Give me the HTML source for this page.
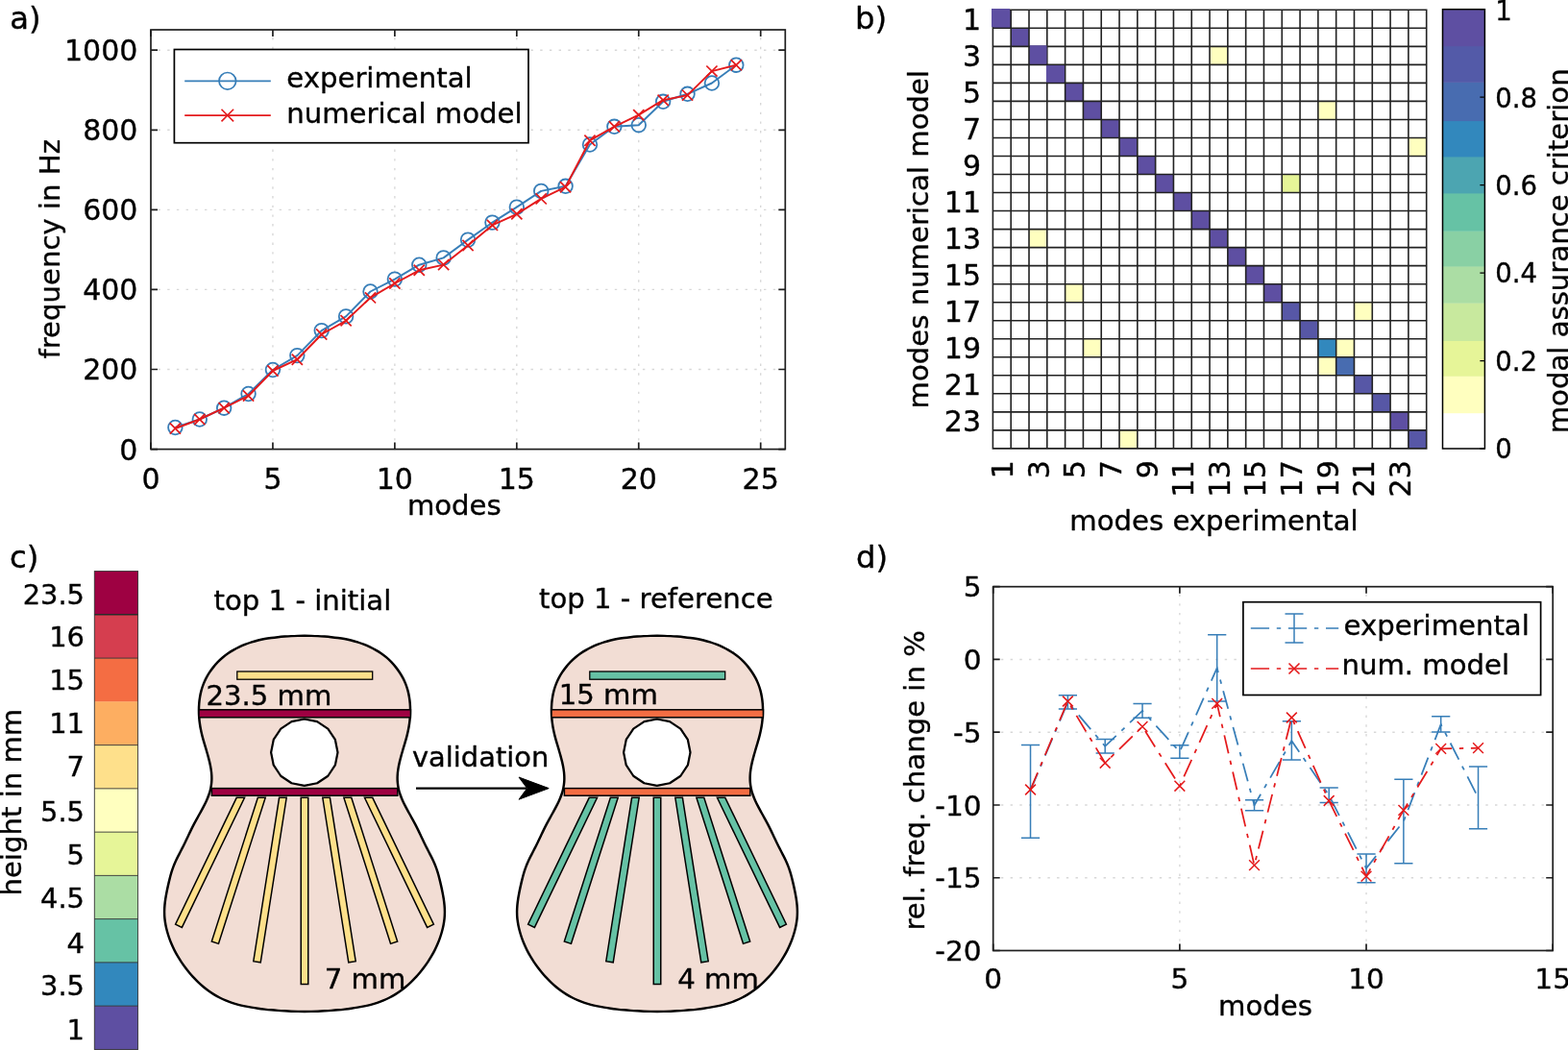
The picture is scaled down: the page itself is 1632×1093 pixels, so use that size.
<!DOCTYPE html>
<html lang="en">
<head>
<meta charset="utf-8">
<title>Guitar top modal validation figure</title>
<style>
html,body{margin:0;padding:0;background:#fff;}
body{width:1632px;height:1093px;overflow:hidden;}
svg{display:block;}
svg text{font-family:"DejaVu Sans","Liberation Sans",sans-serif;fill:#000;stroke:#000;stroke-width:0.36px;stroke-linejoin:round;}
</style>
</head>
<body>
<svg width="1632" height="1093" viewBox="0 0 1632 1093">
<rect x="0" y="0" width="1632" height="1093" fill="#fff"/>
<g id="panel-a">
<path d="M283.94 467.6V31.0M410.88 467.6V31.0M537.82 467.6V31.0M664.76 467.6V31.0M791.70 467.6V31.0" stroke="#d7d7d7" stroke-width="1.35" stroke-dasharray="2.4 7.3" stroke-dashoffset="0.7" fill="none"/>
<path d="M157.0 384.52H817.3M157.0 301.44H817.3M157.0 218.36H817.3M157.0 135.28H817.3M157.0 52.20H817.3" stroke="#d7d7d7" stroke-width="1.35" stroke-dasharray="2.4 7.3" stroke-dashoffset="2.2" fill="none"/>
<polyline points="182.39,445.00 207.78,436.50 233.16,424.70 258.55,410.00 283.94,385.00 309.33,370.10 334.72,344.10 360.10,329.40 385.49,303.50 410.88,290.60 436.27,275.70 461.66,268.40 487.04,249.60 512.43,231.60 537.82,215.60 563.21,198.90 588.60,193.80 613.98,150.50 639.37,131.80 664.76,130.20 690.15,105.80 715.54,97.80 740.92,86.50 766.31,67.70" stroke="#377eb8" stroke-width="1.95" fill="none" stroke-linejoin="round"/>
<circle cx="182.39" cy="445.00" r="7.3" stroke="#377eb8" stroke-width="1.8" fill="none"/>
<circle cx="207.78" cy="436.50" r="7.3" stroke="#377eb8" stroke-width="1.8" fill="none"/>
<circle cx="233.16" cy="424.70" r="7.3" stroke="#377eb8" stroke-width="1.8" fill="none"/>
<circle cx="258.55" cy="410.00" r="7.3" stroke="#377eb8" stroke-width="1.8" fill="none"/>
<circle cx="283.94" cy="385.00" r="7.3" stroke="#377eb8" stroke-width="1.8" fill="none"/>
<circle cx="309.33" cy="370.10" r="7.3" stroke="#377eb8" stroke-width="1.8" fill="none"/>
<circle cx="334.72" cy="344.10" r="7.3" stroke="#377eb8" stroke-width="1.8" fill="none"/>
<circle cx="360.10" cy="329.40" r="7.3" stroke="#377eb8" stroke-width="1.8" fill="none"/>
<circle cx="385.49" cy="303.50" r="7.3" stroke="#377eb8" stroke-width="1.8" fill="none"/>
<circle cx="410.88" cy="290.60" r="7.3" stroke="#377eb8" stroke-width="1.8" fill="none"/>
<circle cx="436.27" cy="275.70" r="7.3" stroke="#377eb8" stroke-width="1.8" fill="none"/>
<circle cx="461.66" cy="268.40" r="7.3" stroke="#377eb8" stroke-width="1.8" fill="none"/>
<circle cx="487.04" cy="249.60" r="7.3" stroke="#377eb8" stroke-width="1.8" fill="none"/>
<circle cx="512.43" cy="231.60" r="7.3" stroke="#377eb8" stroke-width="1.8" fill="none"/>
<circle cx="537.82" cy="215.60" r="7.3" stroke="#377eb8" stroke-width="1.8" fill="none"/>
<circle cx="563.21" cy="198.90" r="7.3" stroke="#377eb8" stroke-width="1.8" fill="none"/>
<circle cx="588.60" cy="193.80" r="7.3" stroke="#377eb8" stroke-width="1.8" fill="none"/>
<circle cx="613.98" cy="150.50" r="7.3" stroke="#377eb8" stroke-width="1.8" fill="none"/>
<circle cx="639.37" cy="131.80" r="7.3" stroke="#377eb8" stroke-width="1.8" fill="none"/>
<circle cx="664.76" cy="130.20" r="7.3" stroke="#377eb8" stroke-width="1.8" fill="none"/>
<circle cx="690.15" cy="105.80" r="7.3" stroke="#377eb8" stroke-width="1.8" fill="none"/>
<circle cx="715.54" cy="97.80" r="7.3" stroke="#377eb8" stroke-width="1.8" fill="none"/>
<circle cx="740.92" cy="86.50" r="7.3" stroke="#377eb8" stroke-width="1.8" fill="none"/>
<circle cx="766.31" cy="67.70" r="7.3" stroke="#377eb8" stroke-width="1.8" fill="none"/>
<polyline points="182.39,446.00 207.78,436.50 233.16,424.70 258.55,412.00 283.94,386.00 309.33,374.20 334.72,348.00 360.10,333.80 385.49,309.90 410.88,295.00 436.27,281.30 461.66,275.60 487.04,255.50 512.43,234.40 537.82,222.80 563.21,206.90 588.60,194.70 613.98,146.20 639.37,131.80 664.76,119.70 690.15,104.20 715.54,99.10 740.92,74.10 766.31,67.70" stroke="#e41a1c" stroke-width="1.95" fill="none" stroke-linejoin="round"/>
<path d="M176.79 440.40L187.99 451.60M176.79 451.60L187.99 440.40" stroke="#e41a1c" stroke-width="1.75" fill="none"/>
<path d="M202.18 430.90L213.38 442.10M202.18 442.10L213.38 430.90" stroke="#e41a1c" stroke-width="1.75" fill="none"/>
<path d="M227.56 419.10L238.76 430.30M227.56 430.30L238.76 419.10" stroke="#e41a1c" stroke-width="1.75" fill="none"/>
<path d="M252.95 406.40L264.15 417.60M252.95 417.60L264.15 406.40" stroke="#e41a1c" stroke-width="1.75" fill="none"/>
<path d="M278.34 380.40L289.54 391.60M278.34 391.60L289.54 380.40" stroke="#e41a1c" stroke-width="1.75" fill="none"/>
<path d="M303.73 368.60L314.93 379.80M303.73 379.80L314.93 368.60" stroke="#e41a1c" stroke-width="1.75" fill="none"/>
<path d="M329.12 342.40L340.32 353.60M329.12 353.60L340.32 342.40" stroke="#e41a1c" stroke-width="1.75" fill="none"/>
<path d="M354.50 328.20L365.70 339.40M354.50 339.40L365.70 328.20" stroke="#e41a1c" stroke-width="1.75" fill="none"/>
<path d="M379.89 304.30L391.09 315.50M379.89 315.50L391.09 304.30" stroke="#e41a1c" stroke-width="1.75" fill="none"/>
<path d="M405.28 289.40L416.48 300.60M405.28 300.60L416.48 289.40" stroke="#e41a1c" stroke-width="1.75" fill="none"/>
<path d="M430.67 275.70L441.87 286.90M430.67 286.90L441.87 275.70" stroke="#e41a1c" stroke-width="1.75" fill="none"/>
<path d="M456.06 270.00L467.26 281.20M456.06 281.20L467.26 270.00" stroke="#e41a1c" stroke-width="1.75" fill="none"/>
<path d="M481.44 249.90L492.64 261.10M481.44 261.10L492.64 249.90" stroke="#e41a1c" stroke-width="1.75" fill="none"/>
<path d="M506.83 228.80L518.03 240.00M506.83 240.00L518.03 228.80" stroke="#e41a1c" stroke-width="1.75" fill="none"/>
<path d="M532.22 217.20L543.42 228.40M532.22 228.40L543.42 217.20" stroke="#e41a1c" stroke-width="1.75" fill="none"/>
<path d="M557.61 201.30L568.81 212.50M557.61 212.50L568.81 201.30" stroke="#e41a1c" stroke-width="1.75" fill="none"/>
<path d="M583.00 189.10L594.20 200.30M583.00 200.30L594.20 189.10" stroke="#e41a1c" stroke-width="1.75" fill="none"/>
<path d="M608.38 140.60L619.58 151.80M608.38 151.80L619.58 140.60" stroke="#e41a1c" stroke-width="1.75" fill="none"/>
<path d="M633.77 126.20L644.97 137.40M633.77 137.40L644.97 126.20" stroke="#e41a1c" stroke-width="1.75" fill="none"/>
<path d="M659.16 114.10L670.36 125.30M659.16 125.30L670.36 114.10" stroke="#e41a1c" stroke-width="1.75" fill="none"/>
<path d="M684.55 98.60L695.75 109.80M684.55 109.80L695.75 98.60" stroke="#e41a1c" stroke-width="1.75" fill="none"/>
<path d="M709.94 93.50L721.14 104.70M709.94 104.70L721.14 93.50" stroke="#e41a1c" stroke-width="1.75" fill="none"/>
<path d="M735.32 68.50L746.52 79.70M735.32 79.70L746.52 68.50" stroke="#e41a1c" stroke-width="1.75" fill="none"/>
<path d="M760.71 62.10L771.91 73.30M760.71 73.30L771.91 62.10" stroke="#e41a1c" stroke-width="1.75" fill="none"/>
<path d="M157.00 467.6v-7M157.00 31.0v7M283.94 467.6v-7M283.94 31.0v7M410.88 467.6v-7M410.88 31.0v7M537.82 467.6v-7M537.82 31.0v7M664.76 467.6v-7M664.76 31.0v7M791.70 467.6v-7M791.70 31.0v7M157.0 467.60h7M817.3 467.60h-7M157.0 384.52h7M817.3 384.52h-7M157.0 301.44h7M817.3 301.44h-7M157.0 218.36h7M817.3 218.36h-7M157.0 135.28h7M817.3 135.28h-7M157.0 52.20h7M817.3 52.20h-7" stroke="#1f1f1f" stroke-width="1.7" fill="none"/>
<rect x="157.0" y="31.0" width="660.30" height="436.60" stroke="#1f1f1f" stroke-width="1.7" fill="none"/>
<text x="143.40" y="478.50" text-anchor="end" font-size="30.0">0</text>
<text x="143.40" y="395.42" text-anchor="end" font-size="30.0">200</text>
<text x="143.40" y="312.34" text-anchor="end" font-size="30.0">400</text>
<text x="143.40" y="229.26" text-anchor="end" font-size="30.0">600</text>
<text x="143.40" y="146.18" text-anchor="end" font-size="30.0">800</text>
<text x="143.40" y="63.10" text-anchor="end" font-size="30.0">1000</text>
<text x="157.00" y="508.80" text-anchor="middle" font-size="30.0">0</text>
<text x="283.94" y="508.80" text-anchor="middle" font-size="30.0">5</text>
<text x="410.88" y="508.80" text-anchor="middle" font-size="30.0">10</text>
<text x="537.82" y="508.80" text-anchor="middle" font-size="30.0">15</text>
<text x="664.76" y="508.80" text-anchor="middle" font-size="30.0">20</text>
<text x="791.70" y="508.80" text-anchor="middle" font-size="30.0">25</text>
<text x="423.90" y="535.70" text-anchor="start" font-size="29.15">modes</text>
<text x="62.10" y="373.50" text-anchor="start" font-size="29.15" transform="rotate(-90 62.10 373.50)">frequency in Hz</text>
<text x="10.30" y="29.90" text-anchor="start" font-size="32.3">a)</text>
<rect x="181.4" y="51.5" width="368.6" height="97.2" fill="#fff" stroke="#000" stroke-width="1.7"/>
<path d="M192.2 84.3H281.8" stroke="#377eb8" stroke-width="1.7" fill="none"/>
<circle cx="236.8" cy="84.3" r="8.8" stroke="#377eb8" stroke-width="1.7" fill="none"/>
<path d="M192.2 120.1H281.8" stroke="#e41a1c" stroke-width="1.7" fill="none"/>
<path d="M230.50 113.80L243.10 126.40M230.50 126.40L243.10 113.80" stroke="#e41a1c" stroke-width="1.6" fill="none"/>
<text x="298.30" y="90.80" text-anchor="start" font-size="29.15">experimental</text>
<text x="298.30" y="127.90" text-anchor="start" font-size="29.15">numerical model</text>
</g>
<g id="panel-b">
<rect x="1033.40" y="10.30" width="18.80" height="19.02" fill="#5e4fa2"/>
<rect x="1052.20" y="29.32" width="18.80" height="19.02" fill="#5e4fa2"/>
<rect x="1071.01" y="48.35" width="18.80" height="19.02" fill="#5e4fa2"/>
<rect x="1089.81" y="67.38" width="18.80" height="19.02" fill="#5e4fa2"/>
<rect x="1108.62" y="86.40" width="18.80" height="19.02" fill="#5e4fa2"/>
<rect x="1127.42" y="105.42" width="18.80" height="19.02" fill="#5e4fa2"/>
<rect x="1146.23" y="124.45" width="18.80" height="19.02" fill="#5e4fa2"/>
<rect x="1165.03" y="143.47" width="18.80" height="19.02" fill="#5e4fa2"/>
<rect x="1183.83" y="162.50" width="18.80" height="19.02" fill="#5e4fa2"/>
<rect x="1202.64" y="181.53" width="18.80" height="19.02" fill="#5e4fa2"/>
<rect x="1221.44" y="200.55" width="18.80" height="19.02" fill="#5e4fa2"/>
<rect x="1240.25" y="219.57" width="18.80" height="19.02" fill="#5e4fa2"/>
<rect x="1259.05" y="238.60" width="18.80" height="19.02" fill="#5e4fa2"/>
<rect x="1277.85" y="257.62" width="18.80" height="19.02" fill="#5e4fa2"/>
<rect x="1296.66" y="276.65" width="18.80" height="19.02" fill="#5e4fa2"/>
<rect x="1315.46" y="295.68" width="18.80" height="19.02" fill="#5e4fa2"/>
<rect x="1334.27" y="314.70" width="18.80" height="19.02" fill="#5757a6"/>
<rect x="1353.07" y="333.72" width="18.80" height="19.02" fill="#5757a6"/>
<rect x="1371.88" y="352.75" width="18.80" height="19.02" fill="#3288bd"/>
<rect x="1390.68" y="371.77" width="18.80" height="19.02" fill="#486cb0"/>
<rect x="1409.48" y="390.80" width="18.80" height="19.02" fill="#5757a6"/>
<rect x="1428.29" y="409.82" width="18.80" height="19.02" fill="#5757a6"/>
<rect x="1447.09" y="428.85" width="18.80" height="19.02" fill="#5e4fa2"/>
<rect x="1465.90" y="447.88" width="18.80" height="19.02" fill="#5757a6"/>
<rect x="1259.05" y="48.35" width="18.80" height="19.02" fill="#ffffbf"/>
<rect x="1371.88" y="105.42" width="18.80" height="19.02" fill="#ffffbf"/>
<rect x="1465.90" y="143.47" width="18.80" height="19.02" fill="#ffffbf"/>
<rect x="1071.01" y="238.60" width="18.80" height="19.02" fill="#ffffbf"/>
<rect x="1108.62" y="295.68" width="18.80" height="19.02" fill="#ffffbf"/>
<rect x="1409.48" y="314.70" width="18.80" height="19.02" fill="#ffffbf"/>
<rect x="1127.42" y="352.75" width="18.80" height="19.02" fill="#ffffbf"/>
<rect x="1390.68" y="352.75" width="18.80" height="19.02" fill="#ffffbf"/>
<rect x="1371.88" y="371.77" width="18.80" height="19.02" fill="#ffffbf"/>
<rect x="1165.03" y="447.88" width="18.80" height="19.02" fill="#ffffbf"/>
<rect x="1334.27" y="181.53" width="18.80" height="19.02" fill="#e6f598"/>
<path d="M1033.40 10.3V466.9M1033.4 10.30H1484.7M1052.20 10.3V466.9M1033.4 29.32H1484.7M1071.01 10.3V466.9M1033.4 48.35H1484.7M1089.81 10.3V466.9M1033.4 67.38H1484.7M1108.62 10.3V466.9M1033.4 86.40H1484.7M1127.42 10.3V466.9M1033.4 105.42H1484.7M1146.23 10.3V466.9M1033.4 124.45H1484.7M1165.03 10.3V466.9M1033.4 143.47H1484.7M1183.83 10.3V466.9M1033.4 162.50H1484.7M1202.64 10.3V466.9M1033.4 181.53H1484.7M1221.44 10.3V466.9M1033.4 200.55H1484.7M1240.25 10.3V466.9M1033.4 219.57H1484.7M1259.05 10.3V466.9M1033.4 238.60H1484.7M1277.85 10.3V466.9M1033.4 257.62H1484.7M1296.66 10.3V466.9M1033.4 276.65H1484.7M1315.46 10.3V466.9M1033.4 295.68H1484.7M1334.27 10.3V466.9M1033.4 314.70H1484.7M1353.07 10.3V466.9M1033.4 333.72H1484.7M1371.88 10.3V466.9M1033.4 352.75H1484.7M1390.68 10.3V466.9M1033.4 371.77H1484.7M1409.48 10.3V466.9M1033.4 390.80H1484.7M1428.29 10.3V466.9M1033.4 409.82H1484.7M1447.09 10.3V466.9M1033.4 428.85H1484.7M1465.90 10.3V466.9M1033.4 447.88H1484.7M1484.70 10.3V466.9M1033.4 466.90H1484.7" stroke="#222" stroke-width="1.6" fill="none" stroke-linecap="square"/>
<rect x="1032.00" y="9.00" width="19.00" height="19.22" fill="#5e4fa2"/>
<rect x="1071.91" y="47.25" width="17.60" height="19.12" fill="#5e4fa2"/>
<rect x="1088.91" y="68.17" width="18.80" height="17.42" fill="#5e4fa2"/>
<text x="1021.00" y="30.81" text-anchor="end" font-size="30.0">1</text>
<text x="1054.10" y="479.20" text-anchor="end" font-size="30.0" transform="rotate(-90 1054.10 479.20)">1</text>
<text x="1021.00" y="68.86" text-anchor="end" font-size="30.0">3</text>
<text x="1091.71" y="479.20" text-anchor="end" font-size="30.0" transform="rotate(-90 1091.71 479.20)">3</text>
<text x="1021.00" y="106.91" text-anchor="end" font-size="30.0">5</text>
<text x="1129.32" y="479.20" text-anchor="end" font-size="30.0" transform="rotate(-90 1129.32 479.20)">5</text>
<text x="1021.00" y="144.96" text-anchor="end" font-size="30.0">7</text>
<text x="1166.93" y="479.20" text-anchor="end" font-size="30.0" transform="rotate(-90 1166.93 479.20)">7</text>
<text x="1021.00" y="183.01" text-anchor="end" font-size="30.0">9</text>
<text x="1204.54" y="479.20" text-anchor="end" font-size="30.0" transform="rotate(-90 1204.54 479.20)">9</text>
<text x="1021.00" y="221.06" text-anchor="end" font-size="30.0">11</text>
<text x="1242.14" y="479.20" text-anchor="end" font-size="30.0" transform="rotate(-90 1242.14 479.20)">11</text>
<text x="1021.00" y="259.11" text-anchor="end" font-size="30.0">13</text>
<text x="1279.75" y="479.20" text-anchor="end" font-size="30.0" transform="rotate(-90 1279.75 479.20)">13</text>
<text x="1021.00" y="297.16" text-anchor="end" font-size="30.0">15</text>
<text x="1317.36" y="479.20" text-anchor="end" font-size="30.0" transform="rotate(-90 1317.36 479.20)">15</text>
<text x="1021.00" y="335.21" text-anchor="end" font-size="30.0">17</text>
<text x="1354.97" y="479.20" text-anchor="end" font-size="30.0" transform="rotate(-90 1354.97 479.20)">17</text>
<text x="1021.00" y="373.26" text-anchor="end" font-size="30.0">19</text>
<text x="1392.58" y="479.20" text-anchor="end" font-size="30.0" transform="rotate(-90 1392.58 479.20)">19</text>
<text x="1021.00" y="411.31" text-anchor="end" font-size="30.0">21</text>
<text x="1430.19" y="479.20" text-anchor="end" font-size="30.0" transform="rotate(-90 1430.19 479.20)">21</text>
<text x="1021.00" y="449.36" text-anchor="end" font-size="30.0">23</text>
<text x="1467.79" y="479.20" text-anchor="end" font-size="30.0" transform="rotate(-90 1467.79 479.20)">23</text>
<text x="1113.30" y="551.70" text-anchor="start" font-size="29.15">modes experimental</text>
<text x="966.30" y="425.40" text-anchor="start" font-size="29.15" transform="rotate(-90 966.30 425.40)">modes numerical model</text>
<text x="890.00" y="29.80" text-anchor="start" font-size="32.3">b)</text>
<rect x="1501.5" y="429.80" width="43.90" height="37.60" fill="#ffffff"/>
<rect x="1501.5" y="391.40" width="43.90" height="38.80" fill="#ffffbf"/>
<rect x="1501.5" y="354.60" width="43.90" height="37.20" fill="#e6f598"/>
<rect x="1501.5" y="315.20" width="43.90" height="39.80" fill="#c8e99e"/>
<rect x="1501.5" y="277.10" width="43.90" height="38.50" fill="#abdda4"/>
<rect x="1501.5" y="240.30" width="43.90" height="37.20" fill="#89d0a4"/>
<rect x="1501.5" y="201.00" width="43.90" height="39.70" fill="#66c2a5"/>
<rect x="1501.5" y="163.00" width="43.90" height="38.40" fill="#4ca5b1"/>
<rect x="1501.5" y="125.70" width="43.90" height="37.70" fill="#3288bd"/>
<rect x="1501.5" y="85.50" width="43.90" height="40.60" fill="#486cb0"/>
<rect x="1501.5" y="47.80" width="43.90" height="38.10" fill="#535aa8"/>
<rect x="1501.5" y="9.70" width="43.90" height="38.50" fill="#5e4fa2"/>
<rect x="1501.5" y="9.7" width="43.90" height="457.30" fill="none" stroke="#000" stroke-width="1.5"/>
<path d="M1545.4 467.00h-5M1545.4 375.54h-5M1545.4 284.08h-5M1545.4 192.62h-5M1545.4 101.16h-5M1545.4 9.70h-5" stroke="#000" stroke-width="1.3" fill="none"/>
<text x="1556.30" y="477.40" text-anchor="start" font-size="27.5">0</text>
<text x="1556.30" y="385.94" text-anchor="start" font-size="27.5">0.2</text>
<text x="1556.30" y="294.48" text-anchor="start" font-size="27.5">0.4</text>
<text x="1556.30" y="203.02" text-anchor="start" font-size="27.5">0.6</text>
<text x="1556.30" y="111.56" text-anchor="start" font-size="27.5">0.8</text>
<text x="1556.30" y="20.80" text-anchor="start" font-size="27.5">1</text>
<text x="1631.80" y="451.30" text-anchor="start" font-size="29.15" transform="rotate(-90 1631.80 451.30)">modal assurance criterion</text>
</g>
<g id="panel-c">
<rect x="98.3" y="594.60" width="45.30" height="45.55" fill="#9e0142"/>
<rect x="98.3" y="639.85" width="45.30" height="45.55" fill="#d53e4f"/>
<rect x="98.3" y="685.11" width="45.30" height="45.55" fill="#f46d43"/>
<rect x="98.3" y="730.36" width="45.30" height="45.55" fill="#fdae61"/>
<rect x="98.3" y="775.62" width="45.30" height="45.55" fill="#fee08b"/>
<rect x="98.3" y="820.87" width="45.30" height="45.55" fill="#ffffbf"/>
<rect x="98.3" y="866.13" width="45.30" height="45.55" fill="#e6f598"/>
<rect x="98.3" y="911.38" width="45.30" height="45.55" fill="#abdda4"/>
<rect x="98.3" y="956.64" width="45.30" height="45.55" fill="#66c2a5"/>
<rect x="98.3" y="1001.89" width="45.30" height="45.55" fill="#3288bd"/>
<rect x="98.3" y="1047.15" width="45.30" height="45.55" fill="#5e4fa2"/>
<path d="M98.3 685.11H143.6M98.3 775.62H143.6M98.3 820.87H143.6M98.3 866.13H143.6M98.3 911.38H143.6M98.3 956.64H143.6M98.3 1001.89H143.6M98.3 1047.15H143.6" stroke="#333" stroke-width="0.9" fill="none"/>
<path d="M98.3 639.85H143.6" stroke="#2a2a2a" stroke-width="1.5" fill="none"/>
<rect x="98.3" y="594.6" width="45.30" height="497.80" fill="none" stroke="#333" stroke-width="0.9"/>
<text x="88.00" y="629.33" text-anchor="end" font-size="28.9">23.5</text>
<text x="88.00" y="673.08" text-anchor="end" font-size="28.9">16</text>
<text x="88.00" y="717.84" text-anchor="end" font-size="28.9">15</text>
<text x="88.00" y="762.59" text-anchor="end" font-size="28.9">11</text>
<text x="88.00" y="807.65" text-anchor="end" font-size="28.9">7</text>
<text x="88.00" y="854.90" text-anchor="end" font-size="28.9">5.5</text>
<text x="88.00" y="900.15" text-anchor="end" font-size="28.9">5</text>
<text x="88.00" y="944.91" text-anchor="end" font-size="28.9">4.5</text>
<text x="88.00" y="991.86" text-anchor="end" font-size="28.9">4</text>
<text x="88.00" y="1035.82" text-anchor="end" font-size="28.9">3.5</text>
<text x="88.00" y="1081.87" text-anchor="end" font-size="28.9">1</text>
<text x="22.40" y="932.50" text-anchor="start" font-size="29.15" transform="rotate(-90 22.40 932.50)">height in mm</text>
<text x="10.10" y="591.30" text-anchor="start" font-size="32.3">c)</text>
<g transform="translate(0 0)">
<path d="M317.00 661.76C314.68 661.76 312.36 661.79 310.05 661.85C307.73 661.92 305.41 662.01 303.10 662.13C300.78 662.25 298.47 662.41 296.16 662.58C293.85 662.76 291.54 662.96 289.23 663.19C286.92 663.42 284.62 663.67 282.32 663.98C280.03 664.29 277.74 664.62 275.46 665.04C273.19 665.46 270.93 665.92 268.69 666.47C266.45 667.03 264.22 667.65 262.02 668.35C259.82 669.05 257.64 669.82 255.50 670.67C253.35 671.51 251.23 672.43 249.15 673.42C247.07 674.42 245.01 675.48 243.01 676.62C241.01 677.76 239.04 678.97 237.15 680.27C235.26 681.57 233.43 682.96 231.68 684.44C229.94 685.92 228.27 687.51 226.68 689.16C225.10 690.82 223.58 692.57 222.15 694.37C220.71 696.17 219.34 698.04 218.08 699.95C216.81 701.87 215.62 703.85 214.56 705.88C213.51 707.91 212.56 710.01 211.73 712.14C210.89 714.28 210.19 716.48 209.58 718.69C208.98 720.90 208.49 723.16 208.10 725.43C207.71 727.70 207.44 729.99 207.25 732.29C207.06 734.58 206.98 736.89 206.97 739.20C206.97 741.51 207.05 743.82 207.20 746.12C207.36 748.43 207.58 750.73 207.89 753.02C208.20 755.31 208.59 757.59 209.05 759.85C209.50 762.12 210.06 764.36 210.63 766.60C211.21 768.84 211.86 771.07 212.50 773.29C213.14 775.52 213.83 777.74 214.48 779.96C215.13 782.19 215.80 784.41 216.42 786.64C217.03 788.88 217.64 791.11 218.16 793.36C218.68 795.62 219.16 797.88 219.51 800.15C219.86 802.43 220.15 804.72 220.27 807.00C220.39 809.29 220.40 811.59 220.23 813.86C220.06 816.13 219.74 818.40 219.27 820.63C218.80 822.86 218.15 825.07 217.40 827.23C216.66 829.40 215.75 831.52 214.80 833.63C213.85 835.73 212.79 837.79 211.73 839.85C210.67 841.91 209.54 843.93 208.42 845.97C207.31 848.00 206.16 850.02 205.05 852.05C203.95 854.09 202.84 856.12 201.77 858.18C200.70 860.23 199.66 862.31 198.64 864.39C197.62 866.47 196.64 868.57 195.64 870.66C194.64 872.75 193.66 874.85 192.64 876.93C191.62 879.02 190.59 881.09 189.54 883.16C188.50 885.22 187.40 887.27 186.36 889.33C185.31 891.39 184.24 893.44 183.27 895.53C182.31 897.63 181.38 899.73 180.56 901.88C179.73 904.03 179.01 906.22 178.34 908.43C177.67 910.64 177.09 912.88 176.52 915.12C175.95 917.37 175.43 919.63 174.92 921.89C174.41 924.15 173.91 926.42 173.47 928.69C173.03 930.96 172.60 933.24 172.25 935.53C171.91 937.81 171.60 940.11 171.41 942.41C171.21 944.70 171.08 947.01 171.08 949.31C171.08 951.61 171.19 953.91 171.41 956.20C171.64 958.48 171.99 960.76 172.43 963.02C172.86 965.28 173.42 967.53 174.03 969.76C174.64 971.98 175.34 974.20 176.10 976.38C176.86 978.56 177.69 980.72 178.60 982.84C179.50 984.97 180.48 987.06 181.52 989.12C182.57 991.19 183.69 993.21 184.86 995.20C186.03 997.20 187.27 999.15 188.55 1001.08C189.83 1003.00 191.17 1004.89 192.55 1006.75C193.93 1008.60 195.36 1010.43 196.84 1012.21C198.31 1013.99 199.83 1015.74 201.40 1017.44C202.97 1019.14 204.58 1020.80 206.24 1022.40C207.91 1024.00 209.63 1025.55 211.39 1027.03C213.16 1028.51 214.98 1029.94 216.85 1031.29C218.72 1032.64 220.63 1033.93 222.60 1035.13C224.56 1036.34 226.57 1037.47 228.62 1038.51C230.67 1039.55 232.77 1040.51 234.90 1041.40C237.02 1042.29 239.19 1043.10 241.37 1043.83C243.56 1044.57 245.77 1045.23 248.00 1045.82C250.23 1046.41 252.49 1046.91 254.75 1047.38C257.02 1047.85 259.30 1048.24 261.58 1048.63C263.87 1049.01 266.16 1049.36 268.46 1049.69C270.75 1050.02 273.05 1050.32 275.35 1050.60C277.65 1050.87 279.96 1051.12 282.27 1051.34C284.57 1051.56 286.89 1051.74 289.20 1051.90C291.51 1052.07 293.83 1052.21 296.14 1052.34C298.46 1052.46 300.77 1052.57 303.09 1052.66C305.41 1052.75 307.73 1052.82 310.04 1052.87C312.36 1052.92 314.68 1052.95 317.00 1052.95C319.32 1052.95 321.64 1052.92 323.96 1052.87C326.27 1052.82 328.59 1052.75 330.91 1052.66C333.23 1052.57 335.54 1052.46 337.86 1052.34C340.17 1052.21 342.49 1052.07 344.80 1051.90C347.11 1051.74 349.43 1051.56 351.73 1051.34C354.04 1051.12 356.35 1050.87 358.65 1050.60C360.95 1050.32 363.25 1050.02 365.54 1049.69C367.84 1049.36 370.13 1049.01 372.42 1048.63C374.70 1048.24 376.98 1047.85 379.25 1047.38C381.51 1046.91 383.77 1046.41 386.00 1045.82C388.23 1045.23 390.44 1044.57 392.63 1043.83C394.81 1043.10 396.98 1042.29 399.10 1041.40C401.23 1040.51 403.33 1039.55 405.38 1038.51C407.43 1037.47 409.44 1036.34 411.40 1035.13C413.37 1033.93 415.28 1032.64 417.15 1031.29C419.02 1029.94 420.84 1028.51 422.61 1027.03C424.37 1025.55 426.09 1024.00 427.76 1022.40C429.42 1020.80 431.03 1019.14 432.60 1017.44C434.17 1015.74 435.69 1013.99 437.16 1012.21C438.64 1010.43 440.07 1008.60 441.45 1006.75C442.83 1004.89 444.17 1003.00 445.45 1001.08C446.73 999.15 447.97 997.20 449.14 995.20C450.31 993.21 451.43 991.19 452.48 989.12C453.52 987.06 454.50 984.97 455.40 982.84C456.31 980.72 457.14 978.56 457.90 976.38C458.66 974.20 459.36 971.98 459.97 969.76C460.58 967.53 461.14 965.28 461.57 963.02C462.01 960.76 462.36 958.48 462.59 956.20C462.81 953.91 462.92 951.61 462.92 949.31C462.92 947.01 462.79 944.70 462.59 942.41C462.40 940.11 462.09 937.81 461.75 935.53C461.40 933.24 460.97 930.96 460.53 928.69C460.09 926.42 459.59 924.15 459.08 921.89C458.57 919.63 458.05 917.37 457.48 915.12C456.91 912.88 456.33 910.64 455.66 908.43C454.99 906.22 454.27 904.03 453.44 901.88C452.62 899.73 451.69 897.63 450.73 895.53C449.76 893.44 448.69 891.39 447.64 889.33C446.60 887.27 445.50 885.22 444.46 883.16C443.41 881.09 442.38 879.02 441.36 876.93C440.34 874.85 439.36 872.75 438.36 870.66C437.36 868.57 436.38 866.47 435.36 864.39C434.34 862.31 433.30 860.23 432.23 858.18C431.16 856.12 430.05 854.09 428.95 852.05C427.84 850.02 426.69 848.00 425.58 845.97C424.46 843.93 423.33 841.91 422.27 839.85C421.21 837.79 420.15 835.73 419.20 833.63C418.25 831.52 417.34 829.40 416.60 827.23C415.85 825.07 415.20 822.86 414.73 820.63C414.26 818.40 413.94 816.13 413.77 813.86C413.60 811.59 413.61 809.29 413.73 807.00C413.85 804.72 414.14 802.43 414.49 800.15C414.84 797.88 415.32 795.62 415.84 793.36C416.36 791.11 416.97 788.88 417.58 786.64C418.20 784.41 418.87 782.19 419.52 779.96C420.17 777.74 420.86 775.52 421.50 773.29C422.14 771.07 422.79 768.84 423.37 766.60C423.94 764.36 424.50 762.12 424.95 759.85C425.41 757.59 425.80 755.31 426.11 753.02C426.42 750.73 426.64 748.43 426.80 746.12C426.95 743.82 427.03 741.51 427.03 739.20C427.02 736.89 426.94 734.58 426.75 732.29C426.56 729.99 426.29 727.70 425.90 725.43C425.51 723.16 425.02 720.90 424.42 718.69C423.81 716.48 423.11 714.28 422.27 712.14C421.44 710.01 420.49 707.91 419.44 705.88C418.38 703.85 417.19 701.87 415.92 699.95C414.66 698.04 413.29 696.17 411.85 694.37C410.42 692.57 408.90 690.82 407.32 689.16C405.73 687.51 404.06 685.92 402.32 684.44C400.57 682.96 398.74 681.57 396.85 680.27C394.96 678.97 392.99 677.76 390.99 676.62C388.99 675.48 386.93 674.42 384.85 673.42C382.77 672.43 380.65 671.51 378.50 670.67C376.36 669.82 374.18 669.05 371.98 668.35C369.78 667.65 367.55 667.03 365.31 666.47C363.07 665.92 360.81 665.46 358.54 665.04C356.26 664.62 353.97 664.29 351.68 663.98C349.38 663.67 347.08 663.42 344.77 663.19C342.46 662.96 340.15 662.76 337.84 662.58C335.53 662.41 333.22 662.25 330.90 662.13C328.59 662.01 326.27 661.92 323.95 661.85C321.64 661.79 319.32 661.76 317.00 661.76Z" fill="#f2ddd4" stroke="#000" stroke-width="2.45" stroke-linejoin="round"/>
<polygon points="351.50,783.20 348.86,796.48 341.34,807.74 330.08,815.26 316.80,817.90 303.52,815.26 292.26,807.74 284.74,796.48 282.10,783.20 284.74,769.92 292.26,758.66 303.52,751.14 316.80,748.50 330.08,751.14 341.34,758.66 348.86,769.92" fill="#fff" stroke="#000" stroke-width="2.2" stroke-linejoin="round"/>
<rect x="246.8" y="699.0" width="140.9" height="8.2" fill="#fee08b" stroke="#000" stroke-width="1.3"/>
<rect x="207.0" y="738.8" width="220.4" height="8.0" fill="#9e0142" stroke="#000" stroke-width="1.5"/>
<rect x="220.4" y="820.6" width="193.4" height="7.6" fill="#9e0142" stroke="#000" stroke-width="1.5"/>
<polygon points="246.24,830.30 254.56,830.30 189.38,965.43 182.62,962.17" fill="#fee08b" stroke="#000" stroke-width="1.5" stroke-linejoin="miter"/>
<polygon points="268.36,830.30 276.24,830.30 227.47,982.35 220.33,980.05" fill="#fee08b" stroke="#000" stroke-width="1.5" stroke-linejoin="miter"/>
<polygon points="290.60,830.30 298.20,830.30 271.20,1001.78 263.80,1000.62" fill="#fee08b" stroke="#000" stroke-width="1.5" stroke-linejoin="miter"/>
<polygon points="313.25,830.30 320.75,830.30 320.75,1024.40 313.25,1024.40" fill="#fee08b" stroke="#000" stroke-width="1.5" stroke-linejoin="miter"/>
<polygon points="335.80,830.30 343.40,830.30 370.20,1000.62 362.80,1001.78" fill="#fee08b" stroke="#000" stroke-width="1.5" stroke-linejoin="miter"/>
<polygon points="357.86,830.30 365.74,830.30 413.67,980.06 406.53,982.34" fill="#fee08b" stroke="#000" stroke-width="1.5" stroke-linejoin="miter"/>
<polygon points="379.44,830.30 387.76,830.30 451.38,962.17 444.62,965.43" fill="#fee08b" stroke="#000" stroke-width="1.5" stroke-linejoin="miter"/>
</g>
<text x="214.40" y="733.50" text-anchor="start" font-size="29.15">23.5 mm</text>
<text x="337.80" y="1028.90" text-anchor="start" font-size="29.15">7 mm</text>
<g transform="translate(367.0 0)">
<path d="M317.00 661.76C314.68 661.76 312.36 661.79 310.05 661.85C307.73 661.92 305.41 662.01 303.10 662.13C300.78 662.25 298.47 662.41 296.16 662.58C293.85 662.76 291.54 662.96 289.23 663.19C286.92 663.42 284.62 663.67 282.32 663.98C280.03 664.29 277.74 664.62 275.46 665.04C273.19 665.46 270.93 665.92 268.69 666.47C266.45 667.03 264.22 667.65 262.02 668.35C259.82 669.05 257.64 669.82 255.50 670.67C253.35 671.51 251.23 672.43 249.15 673.42C247.07 674.42 245.01 675.48 243.01 676.62C241.01 677.76 239.04 678.97 237.15 680.27C235.26 681.57 233.43 682.96 231.68 684.44C229.94 685.92 228.27 687.51 226.68 689.16C225.10 690.82 223.58 692.57 222.15 694.37C220.71 696.17 219.34 698.04 218.08 699.95C216.81 701.87 215.62 703.85 214.56 705.88C213.51 707.91 212.56 710.01 211.73 712.14C210.89 714.28 210.19 716.48 209.58 718.69C208.98 720.90 208.49 723.16 208.10 725.43C207.71 727.70 207.44 729.99 207.25 732.29C207.06 734.58 206.98 736.89 206.97 739.20C206.97 741.51 207.05 743.82 207.20 746.12C207.36 748.43 207.58 750.73 207.89 753.02C208.20 755.31 208.59 757.59 209.05 759.85C209.50 762.12 210.06 764.36 210.63 766.60C211.21 768.84 211.86 771.07 212.50 773.29C213.14 775.52 213.83 777.74 214.48 779.96C215.13 782.19 215.80 784.41 216.42 786.64C217.03 788.88 217.64 791.11 218.16 793.36C218.68 795.62 219.16 797.88 219.51 800.15C219.86 802.43 220.15 804.72 220.27 807.00C220.39 809.29 220.40 811.59 220.23 813.86C220.06 816.13 219.74 818.40 219.27 820.63C218.80 822.86 218.15 825.07 217.40 827.23C216.66 829.40 215.75 831.52 214.80 833.63C213.85 835.73 212.79 837.79 211.73 839.85C210.67 841.91 209.54 843.93 208.42 845.97C207.31 848.00 206.16 850.02 205.05 852.05C203.95 854.09 202.84 856.12 201.77 858.18C200.70 860.23 199.66 862.31 198.64 864.39C197.62 866.47 196.64 868.57 195.64 870.66C194.64 872.75 193.66 874.85 192.64 876.93C191.62 879.02 190.59 881.09 189.54 883.16C188.50 885.22 187.40 887.27 186.36 889.33C185.31 891.39 184.24 893.44 183.27 895.53C182.31 897.63 181.38 899.73 180.56 901.88C179.73 904.03 179.01 906.22 178.34 908.43C177.67 910.64 177.09 912.88 176.52 915.12C175.95 917.37 175.43 919.63 174.92 921.89C174.41 924.15 173.91 926.42 173.47 928.69C173.03 930.96 172.60 933.24 172.25 935.53C171.91 937.81 171.60 940.11 171.41 942.41C171.21 944.70 171.08 947.01 171.08 949.31C171.08 951.61 171.19 953.91 171.41 956.20C171.64 958.48 171.99 960.76 172.43 963.02C172.86 965.28 173.42 967.53 174.03 969.76C174.64 971.98 175.34 974.20 176.10 976.38C176.86 978.56 177.69 980.72 178.60 982.84C179.50 984.97 180.48 987.06 181.52 989.12C182.57 991.19 183.69 993.21 184.86 995.20C186.03 997.20 187.27 999.15 188.55 1001.08C189.83 1003.00 191.17 1004.89 192.55 1006.75C193.93 1008.60 195.36 1010.43 196.84 1012.21C198.31 1013.99 199.83 1015.74 201.40 1017.44C202.97 1019.14 204.58 1020.80 206.24 1022.40C207.91 1024.00 209.63 1025.55 211.39 1027.03C213.16 1028.51 214.98 1029.94 216.85 1031.29C218.72 1032.64 220.63 1033.93 222.60 1035.13C224.56 1036.34 226.57 1037.47 228.62 1038.51C230.67 1039.55 232.77 1040.51 234.90 1041.40C237.02 1042.29 239.19 1043.10 241.37 1043.83C243.56 1044.57 245.77 1045.23 248.00 1045.82C250.23 1046.41 252.49 1046.91 254.75 1047.38C257.02 1047.85 259.30 1048.24 261.58 1048.63C263.87 1049.01 266.16 1049.36 268.46 1049.69C270.75 1050.02 273.05 1050.32 275.35 1050.60C277.65 1050.87 279.96 1051.12 282.27 1051.34C284.57 1051.56 286.89 1051.74 289.20 1051.90C291.51 1052.07 293.83 1052.21 296.14 1052.34C298.46 1052.46 300.77 1052.57 303.09 1052.66C305.41 1052.75 307.73 1052.82 310.04 1052.87C312.36 1052.92 314.68 1052.95 317.00 1052.95C319.32 1052.95 321.64 1052.92 323.96 1052.87C326.27 1052.82 328.59 1052.75 330.91 1052.66C333.23 1052.57 335.54 1052.46 337.86 1052.34C340.17 1052.21 342.49 1052.07 344.80 1051.90C347.11 1051.74 349.43 1051.56 351.73 1051.34C354.04 1051.12 356.35 1050.87 358.65 1050.60C360.95 1050.32 363.25 1050.02 365.54 1049.69C367.84 1049.36 370.13 1049.01 372.42 1048.63C374.70 1048.24 376.98 1047.85 379.25 1047.38C381.51 1046.91 383.77 1046.41 386.00 1045.82C388.23 1045.23 390.44 1044.57 392.63 1043.83C394.81 1043.10 396.98 1042.29 399.10 1041.40C401.23 1040.51 403.33 1039.55 405.38 1038.51C407.43 1037.47 409.44 1036.34 411.40 1035.13C413.37 1033.93 415.28 1032.64 417.15 1031.29C419.02 1029.94 420.84 1028.51 422.61 1027.03C424.37 1025.55 426.09 1024.00 427.76 1022.40C429.42 1020.80 431.03 1019.14 432.60 1017.44C434.17 1015.74 435.69 1013.99 437.16 1012.21C438.64 1010.43 440.07 1008.60 441.45 1006.75C442.83 1004.89 444.17 1003.00 445.45 1001.08C446.73 999.15 447.97 997.20 449.14 995.20C450.31 993.21 451.43 991.19 452.48 989.12C453.52 987.06 454.50 984.97 455.40 982.84C456.31 980.72 457.14 978.56 457.90 976.38C458.66 974.20 459.36 971.98 459.97 969.76C460.58 967.53 461.14 965.28 461.57 963.02C462.01 960.76 462.36 958.48 462.59 956.20C462.81 953.91 462.92 951.61 462.92 949.31C462.92 947.01 462.79 944.70 462.59 942.41C462.40 940.11 462.09 937.81 461.75 935.53C461.40 933.24 460.97 930.96 460.53 928.69C460.09 926.42 459.59 924.15 459.08 921.89C458.57 919.63 458.05 917.37 457.48 915.12C456.91 912.88 456.33 910.64 455.66 908.43C454.99 906.22 454.27 904.03 453.44 901.88C452.62 899.73 451.69 897.63 450.73 895.53C449.76 893.44 448.69 891.39 447.64 889.33C446.60 887.27 445.50 885.22 444.46 883.16C443.41 881.09 442.38 879.02 441.36 876.93C440.34 874.85 439.36 872.75 438.36 870.66C437.36 868.57 436.38 866.47 435.36 864.39C434.34 862.31 433.30 860.23 432.23 858.18C431.16 856.12 430.05 854.09 428.95 852.05C427.84 850.02 426.69 848.00 425.58 845.97C424.46 843.93 423.33 841.91 422.27 839.85C421.21 837.79 420.15 835.73 419.20 833.63C418.25 831.52 417.34 829.40 416.60 827.23C415.85 825.07 415.20 822.86 414.73 820.63C414.26 818.40 413.94 816.13 413.77 813.86C413.60 811.59 413.61 809.29 413.73 807.00C413.85 804.72 414.14 802.43 414.49 800.15C414.84 797.88 415.32 795.62 415.84 793.36C416.36 791.11 416.97 788.88 417.58 786.64C418.20 784.41 418.87 782.19 419.52 779.96C420.17 777.74 420.86 775.52 421.50 773.29C422.14 771.07 422.79 768.84 423.37 766.60C423.94 764.36 424.50 762.12 424.95 759.85C425.41 757.59 425.80 755.31 426.11 753.02C426.42 750.73 426.64 748.43 426.80 746.12C426.95 743.82 427.03 741.51 427.03 739.20C427.02 736.89 426.94 734.58 426.75 732.29C426.56 729.99 426.29 727.70 425.90 725.43C425.51 723.16 425.02 720.90 424.42 718.69C423.81 716.48 423.11 714.28 422.27 712.14C421.44 710.01 420.49 707.91 419.44 705.88C418.38 703.85 417.19 701.87 415.92 699.95C414.66 698.04 413.29 696.17 411.85 694.37C410.42 692.57 408.90 690.82 407.32 689.16C405.73 687.51 404.06 685.92 402.32 684.44C400.57 682.96 398.74 681.57 396.85 680.27C394.96 678.97 392.99 677.76 390.99 676.62C388.99 675.48 386.93 674.42 384.85 673.42C382.77 672.43 380.65 671.51 378.50 670.67C376.36 669.82 374.18 669.05 371.98 668.35C369.78 667.65 367.55 667.03 365.31 666.47C363.07 665.92 360.81 665.46 358.54 665.04C356.26 664.62 353.97 664.29 351.68 663.98C349.38 663.67 347.08 663.42 344.77 663.19C342.46 662.96 340.15 662.76 337.84 662.58C335.53 662.41 333.22 662.25 330.90 662.13C328.59 662.01 326.27 661.92 323.95 661.85C321.64 661.79 319.32 661.76 317.00 661.76Z" fill="#f2ddd4" stroke="#000" stroke-width="2.45" stroke-linejoin="round"/>
<polygon points="351.50,783.20 348.86,796.48 341.34,807.74 330.08,815.26 316.80,817.90 303.52,815.26 292.26,807.74 284.74,796.48 282.10,783.20 284.74,769.92 292.26,758.66 303.52,751.14 316.80,748.50 330.08,751.14 341.34,758.66 348.86,769.92" fill="#fff" stroke="#000" stroke-width="2.2" stroke-linejoin="round"/>
<rect x="246.8" y="699.0" width="140.9" height="8.2" fill="#66c2a5" stroke="#000" stroke-width="1.3"/>
<rect x="207.0" y="738.8" width="220.4" height="8.0" fill="#f46d43" stroke="#000" stroke-width="1.5"/>
<rect x="220.4" y="820.6" width="193.4" height="7.6" fill="#f46d43" stroke="#000" stroke-width="1.5"/>
<polygon points="246.24,830.30 254.56,830.30 189.38,965.43 182.62,962.17" fill="#66c2a5" stroke="#000" stroke-width="1.5" stroke-linejoin="miter"/>
<polygon points="268.36,830.30 276.24,830.30 227.47,982.35 220.33,980.05" fill="#66c2a5" stroke="#000" stroke-width="1.5" stroke-linejoin="miter"/>
<polygon points="290.60,830.30 298.20,830.30 271.20,1001.78 263.80,1000.62" fill="#66c2a5" stroke="#000" stroke-width="1.5" stroke-linejoin="miter"/>
<polygon points="313.25,830.30 320.75,830.30 320.75,1024.40 313.25,1024.40" fill="#66c2a5" stroke="#000" stroke-width="1.5" stroke-linejoin="miter"/>
<polygon points="335.80,830.30 343.40,830.30 370.20,1000.62 362.80,1001.78" fill="#66c2a5" stroke="#000" stroke-width="1.5" stroke-linejoin="miter"/>
<polygon points="357.86,830.30 365.74,830.30 413.67,980.06 406.53,982.34" fill="#66c2a5" stroke="#000" stroke-width="1.5" stroke-linejoin="miter"/>
<polygon points="379.44,830.30 387.76,830.30 451.38,962.17 444.62,965.43" fill="#66c2a5" stroke="#000" stroke-width="1.5" stroke-linejoin="miter"/>
</g>
<text x="581.70" y="733.00" text-anchor="start" font-size="29.15">15 mm</text>
<text x="705.20" y="1028.90" text-anchor="start" font-size="29.15">4 mm</text>
<text x="222.60" y="635.20" text-anchor="start" font-size="29.15">top 1 - initial</text>
<text x="561.00" y="632.80" text-anchor="start" font-size="29.15">top 1 - reference</text>
<text x="429.00" y="798.10" text-anchor="start" font-size="28.9">validation</text>
<path d="M433 820.6H548" stroke="#000" stroke-width="2.4" fill="none"/>
<path d="M571.2 820.6L540 809L548.6 820.6L540 832.2Z" fill="#000" stroke="#000" stroke-width="1" stroke-linejoin="miter"/>
</g>
<g id="panel-d">
<path d="M1227.87 989.5V610.7M1422.03 989.5V610.7" stroke="#d7d7d7" stroke-width="1.35" stroke-dasharray="2.4 7.3" stroke-dashoffset="0.0" fill="none"/>
<path d="M1033.7 686.46H1616.2M1033.7 762.22H1616.2M1033.7 837.98H1616.2M1033.7 913.74H1616.2" stroke="#d7d7d7" stroke-width="1.35" stroke-dasharray="2.4 7.3" stroke-dashoffset="1.5" fill="none"/>
<polyline points="1072.53,822.70 1111.37,730.90 1150.20,776.80 1189.03,739.90 1227.87,782.50 1266.70,695.40 1305.53,838.20 1344.37,771.20 1383.20,827.80 1422.03,903.90 1460.87,855.00 1499.70,754.00 1538.53,830.30" stroke="#377eb8" stroke-width="1.75" fill="none" stroke-dasharray="19.3 7.7 4.4 7.7"/>
<path d="M1072.53 775.50V872.30M1062.93 775.50h19.2M1062.93 872.30h19.2M1111.37 723.80V737.90M1101.77 723.80h19.2M1101.77 737.90h19.2M1150.20 769.50V784.10M1140.60 769.50h19.2M1140.60 784.10h19.2M1189.03 732.50V747.30M1179.43 732.50h19.2M1179.43 747.30h19.2M1227.87 775.70V789.30M1218.27 775.70h19.2M1218.27 789.30h19.2M1266.70 660.80V730.00M1257.10 660.80h19.2M1257.10 730.00h19.2M1305.53 832.70V843.70M1295.93 832.70h19.2M1295.93 843.70h19.2M1344.37 750.70V791.00M1334.77 750.70h19.2M1334.77 791.00h19.2M1383.20 820.10V835.40M1373.60 820.10h19.2M1373.60 835.40h19.2M1422.03 889.00V918.80M1412.43 889.00h19.2M1412.43 918.80h19.2M1460.87 811.30V898.70M1451.27 811.30h19.2M1451.27 898.70h19.2M1499.70 745.80V762.10M1490.10 745.80h19.2M1490.10 762.10h19.2M1538.53 797.90V862.80M1528.93 797.90h19.2M1528.93 862.80h19.2" stroke="#377eb8" stroke-width="1.5" fill="none"/>
<polyline points="1072.53,822.00 1111.37,730.00 1150.20,794.20 1189.03,756.40 1227.87,818.20 1266.70,732.40 1305.53,900.60 1344.37,747.00 1383.20,833.50 1422.03,912.10 1460.87,843.40 1499.70,779.40 1538.53,778.60" stroke="#e41a1c" stroke-width="1.75" fill="none" stroke-dasharray="19.3 7.7 4.4 7.7"/>
<path d="M1067.13 816.60L1077.93 827.40M1067.13 827.40L1077.93 816.60" stroke="#e41a1c" stroke-width="1.5" fill="none"/>
<path d="M1105.97 724.60L1116.77 735.40M1105.97 735.40L1116.77 724.60" stroke="#e41a1c" stroke-width="1.5" fill="none"/>
<path d="M1144.80 788.80L1155.60 799.60M1144.80 799.60L1155.60 788.80" stroke="#e41a1c" stroke-width="1.5" fill="none"/>
<path d="M1183.63 751.00L1194.43 761.80M1183.63 761.80L1194.43 751.00" stroke="#e41a1c" stroke-width="1.5" fill="none"/>
<path d="M1222.47 812.80L1233.27 823.60M1222.47 823.60L1233.27 812.80" stroke="#e41a1c" stroke-width="1.5" fill="none"/>
<path d="M1261.30 727.00L1272.10 737.80M1261.30 737.80L1272.10 727.00" stroke="#e41a1c" stroke-width="1.5" fill="none"/>
<path d="M1300.13 895.20L1310.93 906.00M1300.13 906.00L1310.93 895.20" stroke="#e41a1c" stroke-width="1.5" fill="none"/>
<path d="M1338.97 741.60L1349.77 752.40M1338.97 752.40L1349.77 741.60" stroke="#e41a1c" stroke-width="1.5" fill="none"/>
<path d="M1377.80 828.10L1388.60 838.90M1377.80 838.90L1388.60 828.10" stroke="#e41a1c" stroke-width="1.5" fill="none"/>
<path d="M1416.63 906.70L1427.43 917.50M1416.63 917.50L1427.43 906.70" stroke="#e41a1c" stroke-width="1.5" fill="none"/>
<path d="M1455.47 838.00L1466.27 848.80M1455.47 848.80L1466.27 838.00" stroke="#e41a1c" stroke-width="1.5" fill="none"/>
<path d="M1494.30 774.00L1505.10 784.80M1494.30 784.80L1505.10 774.00" stroke="#e41a1c" stroke-width="1.5" fill="none"/>
<path d="M1533.13 773.20L1543.93 784.00M1533.13 784.00L1543.93 773.20" stroke="#e41a1c" stroke-width="1.5" fill="none"/>
<path d="M1033.70 989.5v-7M1033.70 610.7v7M1227.87 989.5v-7M1227.87 610.7v7M1422.03 989.5v-7M1422.03 610.7v7M1616.20 989.5v-7M1616.20 610.7v7M1033.7 610.70h7M1616.2 610.70h-7M1033.7 686.46h7M1616.2 686.46h-7M1033.7 762.22h7M1616.2 762.22h-7M1033.7 837.98h7M1616.2 837.98h-7M1033.7 913.74h7M1616.2 913.74h-7M1033.7 989.50h7M1616.2 989.50h-7" stroke="#1f1f1f" stroke-width="1.7" fill="none"/>
<rect x="1033.7" y="610.7" width="582.50" height="378.80" stroke="#1f1f1f" stroke-width="1.7" fill="none"/>
<text transform="translate(1021.60 621.30) scale(1.035 1)" text-anchor="end" font-size="28.6">5</text>
<text transform="translate(1021.60 697.06) scale(1.035 1)" text-anchor="end" font-size="28.6">0</text>
<text transform="translate(1021.60 772.82) scale(1.035 1)" text-anchor="end" font-size="28.6">-5</text>
<text transform="translate(1021.60 848.58) scale(1.035 1)" text-anchor="end" font-size="28.6">-10</text>
<text transform="translate(1021.60 924.34) scale(1.035 1)" text-anchor="end" font-size="28.6">-15</text>
<text transform="translate(1021.60 1000.10) scale(1.035 1)" text-anchor="end" font-size="28.6">-20</text>
<text transform="translate(1033.70 1029.20) scale(1.035 1)" text-anchor="middle" font-size="28.6">0</text>
<text transform="translate(1227.87 1029.20) scale(1.035 1)" text-anchor="middle" font-size="28.6">5</text>
<text transform="translate(1422.03 1029.20) scale(1.035 1)" text-anchor="middle" font-size="28.6">10</text>
<text transform="translate(1616.20 1029.20) scale(1.035 1)" text-anchor="middle" font-size="28.6">15</text>
<text x="1268.10" y="1057.40" text-anchor="start" font-size="29.15">modes</text>
<text x="962.10" y="968.60" text-anchor="start" font-size="29.15" transform="rotate(-90 962.10 968.60)">rel. freq. change in %</text>
<text x="891.00" y="591.40" text-anchor="start" font-size="32.3">d)</text>
<rect x="1293.9" y="626.7" width="309.7" height="96.8" fill="#fff" stroke="#000" stroke-width="1.7"/>
<path d="M1301.8 653.9H1393.2" stroke="#377eb8" stroke-width="1.5" fill="none" stroke-dasharray="19.3 7.7 4.4 7.7"/>
<path d="M1347 639V668.9M1337.5 639h19M1337.5 668.9h19" stroke="#377eb8" stroke-width="1.5" fill="none"/>
<path d="M1301.8 696.0H1393.2" stroke="#e41a1c" stroke-width="1.5" fill="none" stroke-dasharray="19.3 7.7 4.4 7.7"/>
<path d="M1341.50 690.50L1352.50 701.50M1341.50 701.50L1352.50 690.50" stroke="#e41a1c" stroke-width="1.6" fill="none"/>
<text x="1398.50" y="660.50" text-anchor="start" font-size="29.15">experimental</text>
<text x="1396.50" y="702.00" text-anchor="start" font-size="29.15">num. model</text>
</g>
</svg>
</body>
</html>
